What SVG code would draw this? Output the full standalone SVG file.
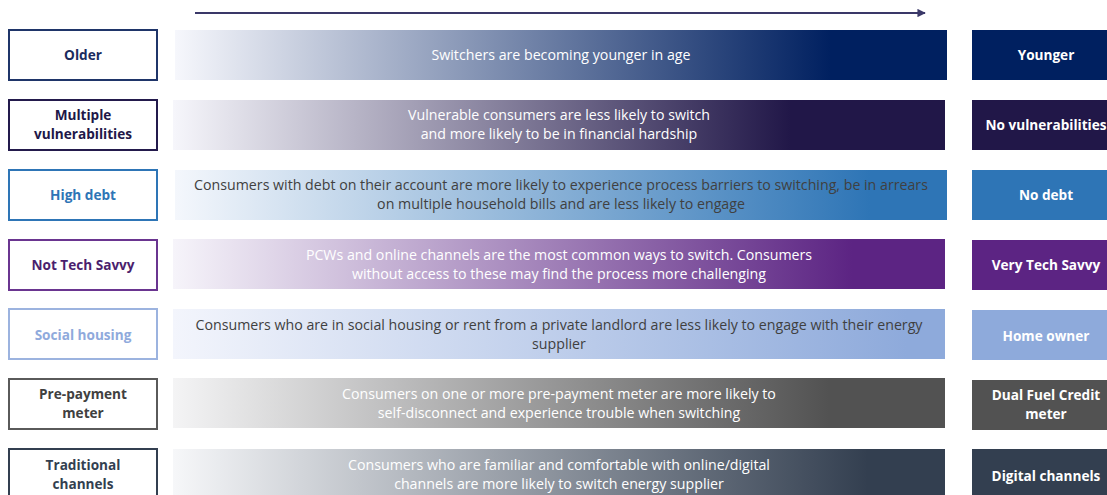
<svg xmlns="http://www.w3.org/2000/svg" width="1107" height="495" viewBox="0 0 1107 495">
  <style>
    .lbl { font-family: "Open Sans", "Liberation Sans", sans-serif; font-weight: bold; font-size: 13.6px; text-anchor: middle; }
    .desc { font-family: "Open Sans", "Liberation Sans", sans-serif; font-size: 14.2px; text-anchor: middle; }
    .box { fill: #ffffff; stroke-width: 2; }
    .light { fill: #ffffff; }
    .dark { fill: #404040; }
  </style>
  <defs>
    <linearGradient id="g1" x1="0" y1="0" x2="1" y2="0">
      <stop offset="0" stop-color="#f6f7fc"/>
      <stop offset="0.85" stop-color="#002060"/>
    </linearGradient>
    <linearGradient id="g2" x1="0" y1="0" x2="1" y2="0">
      <stop offset="0" stop-color="#f6f6fb"/>
      <stop offset="0.8" stop-color="#211748"/>
    </linearGradient>
    <linearGradient id="g3" x1="0" y1="0" x2="1" y2="0">
      <stop offset="0" stop-color="#f4f7fc"/>
      <stop offset="0.9" stop-color="#2e75b6"/>
    </linearGradient>
    <linearGradient id="g4" x1="0" y1="0" x2="1" y2="0">
      <stop offset="0" stop-color="#f6f4fa"/>
      <stop offset="0.88" stop-color="#5c2483"/>
    </linearGradient>
    <linearGradient id="g5" x1="0" y1="0" x2="1" y2="0">
      <stop offset="0" stop-color="#f3f5fc"/>
      <stop offset="0.95" stop-color="#8eaadb"/>
    </linearGradient>
    <linearGradient id="g6" x1="0" y1="0" x2="1" y2="0">
      <stop offset="0" stop-color="#f4f4f5"/>
      <stop offset="0.85" stop-color="#525252"/>
    </linearGradient>
    <linearGradient id="g7" x1="0" y1="0" x2="1" y2="0">
      <stop offset="0" stop-color="#f6f7f9"/>
      <stop offset="0.9" stop-color="#333f50"/>
    </linearGradient>
    <marker id="head" viewBox="0 0 10 10" refX="9" refY="5" markerWidth="4.2" markerHeight="4.2" orient="auto" markerUnits="strokeWidth">
      <path d="M0,0 L10,5 L0,10 z" fill="#3a3868"/>
    </marker>
  </defs>

  <!-- direction of travel -->
  <g id="connectors">
    <line x1="195" y1="13" x2="925" y2="13" stroke="#3a3868" stroke-width="2" marker-end="url(#head)"/>
  </g>

  <g id="row-age">
    <rect class="box" x="9" y="30" width="148" height="50" stroke="#1f3569"/>
    <text class="lbl" x="83" y="60" fill="#1a2b5e">Older</text>
    <rect x="175" y="30" width="772" height="50" fill="url(#g1)"/>
    <text class="desc light" x="561" y="60">Switchers are becoming younger in age</text>
    <rect x="972" y="30" width="148" height="50" fill="#002060"/>
    <text class="lbl light" x="1046" y="60">Younger</text>
  </g>

  <g id="row-vulnerability">
    <rect class="box" x="9" y="100" width="148" height="50" stroke="#231a4c"/>
    <text class="lbl" x="83" y="120" fill="#211748">Multiple</text>
    <text class="lbl" x="83" y="139" fill="#211748">vulnerabilities</text>
    <rect x="173" y="100" width="772" height="50" fill="url(#g2)"/>
    <text class="desc light" x="559" y="120">Vulnerable consumers are less likely to switch</text>
    <text class="desc light" x="559" y="139">and more likely to be in financial hardship</text>
    <rect x="972" y="100" width="148" height="50" fill="#211748"/>
    <text class="lbl light" x="1046" y="130">No vulnerabilities</text>
  </g>

  <g id="row-debt">
    <rect class="box" x="9" y="170" width="148" height="50" stroke="#2e75b6"/>
    <text class="lbl" x="83" y="200" fill="#2e75b6">High debt</text>
    <rect x="175" y="170" width="772" height="50" fill="url(#g3)"/>
    <text class="desc dark" x="561" y="190">Consumers with debt on their account are more likely to experience process barriers to switching, be in arrears</text>
    <text class="desc dark" x="561" y="209">on multiple household bills and are less likely to engage</text>
    <rect x="972" y="170" width="148" height="50" fill="#2e75b6"/>
    <text class="lbl light" x="1046" y="200">No debt</text>
  </g>

  <g id="row-tech">
    <rect class="box" x="9" y="240" width="148" height="50" stroke="#6a3590"/>
    <text class="lbl" x="83" y="270" fill="#4b1f6e">Not Tech Savvy</text>
    <rect x="173" y="239" width="772" height="50" fill="url(#g4)"/>
    <text class="desc light" x="559" y="260">PCWs and online channels are the most common ways to switch. Consumers</text>
    <text class="desc light" x="559" y="279">without access to these may find the process more challenging</text>
    <rect x="972" y="240" width="148" height="50" fill="#5c2483"/>
    <text class="lbl light" x="1046" y="270">Very Tech Savvy</text>
  </g>

  <g id="row-housing">
    <rect class="box" x="9" y="309" width="148" height="50" stroke="#9cb3df"/>
    <text class="lbl" x="83" y="340" fill="#8faadc">Social housing</text>
    <rect x="173" y="309" width="772" height="50" fill="url(#g5)"/>
    <text class="desc dark" x="559" y="330">Consumers who are in social housing or rent from a private landlord are less likely to engage with their energy</text>
    <text class="desc dark" x="559" y="349">supplier</text>
    <rect x="972" y="310" width="148" height="50" fill="#8eaadb"/>
    <text class="lbl light" x="1046" y="341">Home owner</text>
  </g>

  <g id="row-meter">
    <rect class="box" x="9" y="379" width="148" height="50" stroke="#5a5a5a"/>
    <text class="lbl" x="83" y="399" fill="#404040">Pre-payment</text>
    <text class="lbl" x="83" y="418" fill="#404040">meter</text>
    <rect x="173" y="378" width="772" height="50" fill="url(#g6)"/>
    <text class="desc light" x="559" y="399">Consumers on one or more pre-payment meter are more likely to</text>
    <text class="desc light" x="559" y="418">self-disconnect and experience trouble when switching</text>
    <rect x="972" y="380" width="148" height="50" fill="#525252"/>
    <text class="lbl light" x="1046" y="400">Dual Fuel Credit</text>
    <text class="lbl light" x="1046" y="419">meter</text>
  </g>

  <g id="row-channels">
    <rect class="box" x="9" y="449" width="148" height="50" stroke="#333f50"/>
    <text class="lbl" x="83" y="470" fill="#333f50">Traditional</text>
    <text class="lbl" x="83" y="489" fill="#333f50">channels</text>
    <rect x="173" y="449" width="772" height="50" fill="url(#g7)"/>
    <text class="desc light" x="559" y="470">Consumers who are familiar and comfortable with online/digital</text>
    <text class="desc light" x="559" y="489">channels are more likely to switch energy supplier</text>
    <rect x="972" y="449" width="148" height="50" fill="#333f50"/>
    <text class="lbl light" x="1046" y="481">Digital channels</text>
  </g>
</svg>
